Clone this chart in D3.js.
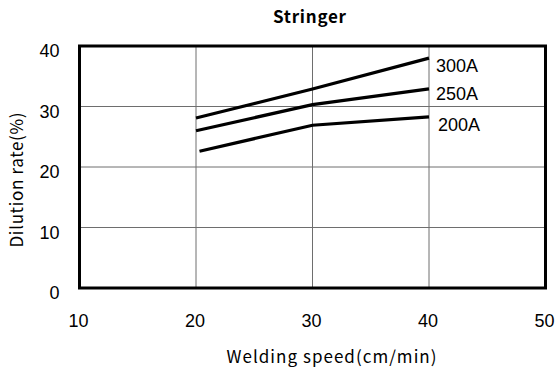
<!DOCTYPE html>
<html>
<head>
<meta charset="utf-8">
<script src="https://cdn.jsdelivr.net/npm/d3@7"></script>
<style>
  body { margin: 0; background: #fff; }
  text { fill: #000; }
</style>
</head>
<body>
<div id="chart"></div>
<script>
// Data
const speeds = [20, 30, 40];
const currents = ['300A', '250A', '200A'];
const rate300 = [28.1, 32.9, 38.0];
const rate250 = [26.0, 30.3, 32.9];
const rate200 = [22.6, 26.9, 28.3];
const startSpeed200 = 20.3;
const xTicks = [10, 20, 30, 40, 50];
const yTicks = [0, 10, 20, 30, 40];

const series = [
  { name: currents[0], values: speeds.map((s, i) => ({ x: s, y: rate300[i] })) },
  { name: currents[1], values: speeds.map((s, i) => ({ x: s, y: rate250[i] })) },
  { name: currents[2], values: speeds.map((s, i) => ({ x: i === 0 ? startSpeed200 : s, y: rate200[i] })) }
];

const config = {
  width: 558,
  height: 367,
  margin: { top: 46, right: 12.5, bottom: 79, left: 79.5 }
};

const width = config.width - config.margin.left - config.margin.right;
const height = config.height - config.margin.top - config.margin.bottom;

const svg = d3.select('#chart').append('svg')
    .attr('width', config.width)
    .attr('height', config.height);

const g = svg.append('g')
    .attr('transform', `translate(${config.margin.left},${config.margin.top})`);

const x = d3.scaleLinear().domain([10, 50]).range([0, width]);
const y = d3.scaleLinear().domain([0, 40]).range([height, 0]);

// Grid lines
g.append('g')
  .selectAll('line')
  .data(xTicks.slice(1, -1))
  .join('line')
    .attr('x1', d => x(d)).attr('x2', d => x(d))
    .attr('y1', 0).attr('y2', height)
    .attr('stroke', '#6e6e6e')
    .attr('stroke-width', 1);

g.append('g')
  .selectAll('line')
  .data(yTicks.slice(1, -1))
  .join('line')
    .attr('x1', 0).attr('x2', width)
    .attr('y1', d => y(d)).attr('y2', d => y(d))
    .attr('stroke', '#6e6e6e')
    .attr('stroke-width', 1);

// Axes (labels only, frame drawn separately)
const xAxis = g.append('g')
    .attr('transform', `translate(0,${height})`)
    .call(d3.axisBottom(x).tickValues(xTicks).tickSize(0).tickPadding(26));
const yAxis = g.append('g')
    .call(d3.axisLeft(y).tickValues(yTicks).tickSize(0).tickPadding(20));

[xAxis, yAxis].forEach(a => {
  a.select('.domain').remove();
  a.selectAll('text')
    .attr('font-family', '"Liberation Sans", Arial, sans-serif')
    .attr('font-size', 18)
    .attr('fill', '#000');
});
xAxis.selectAll('text').attr('dx', -1.5);
yAxis.selectAll('text').attr('dy', '0.6em');

// Frame
g.append('rect')
    .attr('x', 0).attr('y', 0)
    .attr('width', width).attr('height', height)
    .attr('fill', 'none')
    .attr('stroke', '#000')
    .attr('stroke-width', 3);

// Lines
const line = d3.line().x(d => x(d.x)).y(d => y(d.y));

g.selectAll('.series')
  .data(series)
  .join('path')
    .attr('class', 'series')
    .attr('d', d => line(d.values))
    .attr('fill', 'none')
    .attr('stroke', '#000')
    .attr('stroke-width', 3.2);

// Series labels
g.selectAll('.series-label')
  .data(series)
  .join('text')
    .attr('class', 'series-label')
    .attr('x', (d, i) => x(d.values[2].x) + (i === 2 ? 9 : 7))
    .attr('y', (d, i) => y(d.values[2].y) + (i === 0 ? 8 : i === 1 ? 5 : 8))
    .attr('dy', '0.35em')
    .attr('font-family', '"Liberation Sans", Arial, sans-serif')
    .attr('font-size', 18)
    .text(d => d.name);

// Title and axis titles
svg.append('text')
    .attr('x', 309.5)
    .attr('y', 23)
    .attr('text-anchor', 'middle')
    .attr('font-family', '"Noto Sans CJK JP", sans-serif')
    .attr('font-weight', 'bold')
    .attr('font-size', 17)
    .attr('textLength', 73)
    .text('Stringer');

svg.append('text')
    .attr('x', 331.5)
    .attr('y', 363)
    .attr('text-anchor', 'middle')
    .attr('font-family', '"Noto Sans CJK JP", sans-serif')
    .attr('font-size', 17)
    .attr('textLength', 210)
    .text('Welding speed(cm/min)');

svg.append('text')
    .attr('transform', 'translate(23,180) rotate(-90)')
    .attr('text-anchor', 'middle')
    .attr('font-family', '"Noto Sans CJK JP", sans-serif')
    .attr('font-size', 17)
    .attr('textLength', 135)
    .text('Dilution rate(%)');
</script>
</body>
</html>
